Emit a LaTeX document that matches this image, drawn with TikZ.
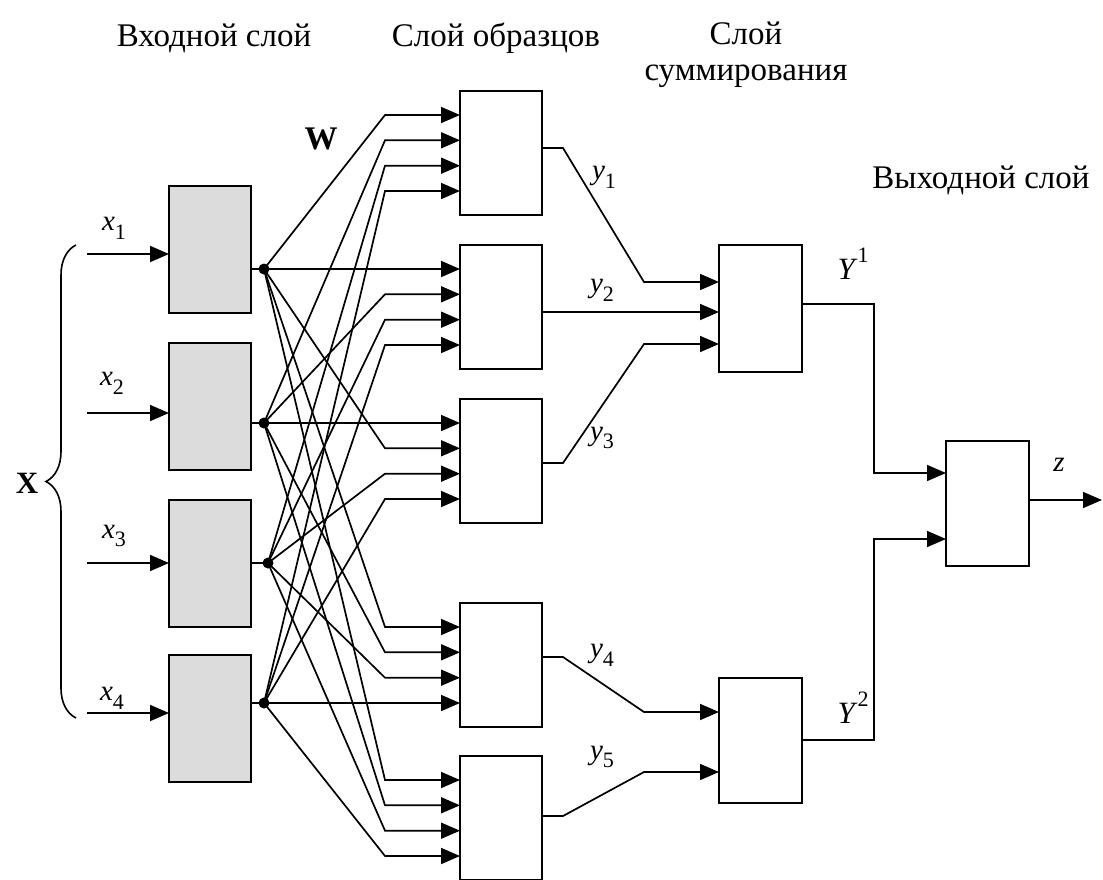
\documentclass[tikz,border=0pt]{standalone}
\usepackage{fontspec}
\setmainfont{Liberation Serif}
\usetikzlibrary{arrows.meta,decorations.pathreplacing}
\definecolor{boxgray}{HTML}{DCDCDC}
\newcommand\vsub[2]{\textit{#1}\raisebox{-0.3em}{\fontsize{22}{22}\selectfont #2}}
\newcommand\vsup[2]{\textit{#1}\raisebox{0.55em}{\fontsize{22}{22}\selectfont #2}}
\begin{document}
\begin{tikzpicture}[x=1pt,y=-1pt,
  conn/.style={line width=1.7pt},
  arr/.style={conn,-{Triangle[length=19pt,width=16pt]}},
  inbox/.style={draw,line width=1.8pt,fill=boxgray,minimum width=82pt,minimum height=127pt,inner sep=0pt,outer sep=0pt,anchor=north west},
  wbox/.style={draw,line width=1.8pt,fill=white,minimum width=82pt,minimum height=124pt,inner sep=0pt,outer sep=0pt,anchor=north west},
  hdr/.style={font=\fontsize{33}{36}\selectfont,inner sep=0pt,align=center},
  lab/.style={font=\fontsize{29}{31}\selectfont,inner sep=0pt},
  jdot/.style={circle,fill,inner sep=0pt,minimum size=11pt}]
\useasboundingbox (0,0) rectangle (1103,879);

% headers
\node[hdr] (h1) at (214,38) {Входной слой};
\node[hdr] (h2) at (496,38) {Слой образцов};
\node[hdr,anchor=north] (h3) at (746,22) {Слой\\суммирования};
\node[hdr] (h5) at (981,180) {Выходной слой};

% input boxes
\node[inbox] (B1) at (169,186) {};
\node[inbox] (B2) at (169,343) {};
\node[inbox] (B3) at (169,500) {};
\node[inbox] (B4) at (169,655) {};

% dots
\node[jdot] (d1) at (264,269) {};
\node[jdot] (d2) at (264,423) {};
\node[jdot] (d3) at (268,563) {};
\node[jdot] (d4) at (264,703) {};
\foreach \i in {1,...,4} \draw[conn] (B\i.east |- d\i) -- (d\i.center);

% input arrows
\foreach \i/\y in {1/254,2/413,3/563,4/713} {
  \coordinate (xs\i) at (87,\y);
  \draw[arr] (xs\i) -- (B\i.west |- xs\i);
}
\node[lab] (lx1) at (114,228) {\vsub{x}{1}};
\node[lab] (lx2) at (112,383) {\vsub{x}{2}};
\node[lab] (lx3) at (114,536) {\vsub{x}{3}};
\node[lab] (lx4) at (112,698) {\vsub{x}{4}};

% brace
\draw[line width=1.6pt,decorate,decoration={brace,amplitude=30pt}] (76,718) -- (76,245);
\node[font=\fontsize{31}{33}\selectfont\bfseries,inner sep=0pt] (X) at (27,483) {X};

% pattern boxes
\coordinate (bx) at (385,0);
\foreach \b/\t in {1/91,2/245,3/399,4/603,5/756} {
  \node[wbox] (P\b) at (460,\t) {};
  \foreach \k/\o in {1/24,2/49.3,3/74.7,4/100} \coordinate (P\b-\k) at (460,\t+\o);
}
\foreach \b/\k/\d in {1/1/1,1/2/2,1/3/3,1/4/4,2/1/1,2/2/2,2/3/3,2/4/4,3/1/2,3/2/1,3/3/3,3/4/4,4/1/1,4/2/2,4/3/3,4/4/4,5/1/1,5/2/2,5/3/3,5/4/4}
  \draw[arr] (d\d.center) -- (bx |- P\b-\k) -- (P\b-\k);
\node[font=\fontsize{33}{35}\selectfont\bfseries,inner sep=0pt] (W) at (321,139) {W};

% summation boxes
\node[wbox,minimum width=83pt,minimum height=127pt] (S1) at (719,245) {};
\node[wbox,minimum width=83pt,minimum height=125pt] (S2) at (719,678) {};
\coordinate (S1-1) at (719,282);
\coordinate (S1-2) at (719,312);
\coordinate (S1-3) at (719,344);
\coordinate (S2-1) at (719,712);
\coordinate (S2-2) at (719,772);
\coordinate (c1) at (563,0);
\coordinate (c2) at (644,0);
\draw[arr] (P1.east |- 0,148) -- (c1 |- 0,148) -- (c2 |- S1-1) -- (S1-1);
\draw[arr] (P2.east |- S1-2) -- (S1-2);
\draw[arr] (P3.east |- 0,463) -- (c1 |- 0,463) -- (c2 |- S1-3) -- (S1-3);
\draw[arr] (P4.east |- 0,657) -- (c1 |- 0,657) -- (c2 |- S2-1) -- (S2-1);
\draw[arr] (P5.east |- 0,816) -- (c1 |- 0,816) -- (c2 |- S2-2) -- (S2-2);
\node[lab] (ly1) at (604,177) {\vsub{y}{1}};
\node[lab] (ly2) at (602,290) {\vsub{y}{2}};
\node[lab] (ly3) at (602,438) {\vsub{y}{3}};
\node[lab] (ly4) at (602,655) {\vsub{y}{4}};
\node[lab] (ly5) at (602,757) {\vsub{y}{5}};

% output box
\node[wbox,minimum width=83pt,minimum height=125pt] (O) at (946,441) {};
\coordinate (O-1) at (946,473);
\coordinate (O-2) at (946,539);
\coordinate (cx) at (874,0);
\draw[arr] (S1.east |- 0,304) -- (cx |- 0,304) -- (cx |- O-1) -- (O-1);
\draw[arr] (S2.east |- 0,740) -- (cx |- 0,740) -- (cx |- O-2) -- (O-2);
\coordinate (zo) at (1102,500);
\draw[arr] (O.east |- zo) -- (zo);
\node[lab,font=\fontsize{31}{33}\selectfont] (lY1) at (853,264) {\vsup{Y}{1}};
\node[lab,font=\fontsize{31}{33}\selectfont] (lY2) at (853,708) {\vsup{Y}{2}};
\node[lab] (lz) at (1059,465) {\textit{z}};
\end{tikzpicture}
\end{document}
